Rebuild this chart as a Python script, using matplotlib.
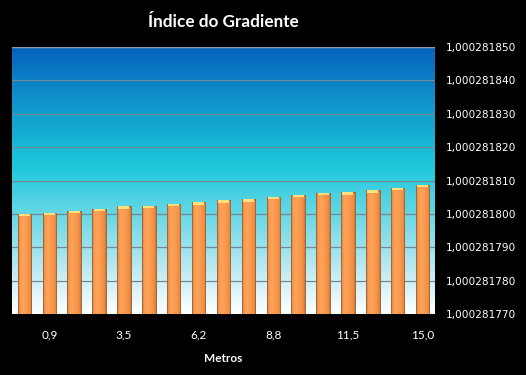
import numpy as np
import matplotlib
matplotlib.use("Agg")
import matplotlib.pyplot as plt
from matplotlib.colors import LinearSegmentedColormap
from matplotlib.ticker import FixedLocator, FuncFormatter

# distâncias (m) e índice do gradiente
metros = [0.0, 0.9, 1.8, 2.6, 3.5, 4.4, 5.3, 6.2, 7.1, 7.9,
          8.8, 9.7, 10.6, 11.5, 12.4, 13.2, 15.0]
indice = [1.0002818001, 1.0002818004, 1.0002818010, 1.0002818016,
          1.0002818023, 1.0002818024, 1.0002818030, 1.0002818035,
          1.0002818041, 1.0002818044, 1.0002818051, 1.0002818058,
          1.0002818063, 1.0002818065, 1.0002818071, 1.0002818078,
          1.0002818087]

Y_MIN = 1.000281770
Y_MAX = 1.000281850
Y_STEP = 0.000000010

BG = "black"


def main():
    fig = plt.figure(figsize=(5.26, 3.75), dpi=100, facecolor=BG)
    ax = fig.add_axes([12 / 526, 1 - 314 / 375, 423 / 526, 267 / 375])
    ax.set_facecolor(BG)

    ax.set_xlim(-0.5, len(metros) - 0.5)
    ax.set_ylim(Y_MIN, Y_MAX)

    # fundo em degradê (azul -> ciano -> branco)
    bg_cmap = LinearSegmentedColormap.from_list(
        "fundo", [(0.0, "#ffffff"), (0.18, "#b8e8f0"), (0.55, "#1ec8dc"),
                  (0.78, "#1098cc"), (1.0, "#0462bd")])
    grad = np.linspace(0, 1, 256).reshape(-1, 1)
    ax.imshow(grad, cmap=bg_cmap, aspect="auto", origin="lower",
              extent=[-0.5, len(metros) - 0.5, Y_MIN, Y_MAX], zorder=0)

    # linhas de grade
    ticks = [Y_MIN + i * Y_STEP for i in range(9)]
    for t in ticks[1:]:
        ax.axhline(t, color="#6f8a96", linewidth=0.9, zorder=1)

    x = np.arange(len(metros))
    heights = [v - Y_MIN for v in indice]
    bars = ax.bar(x, heights, bottom=Y_MIN, width=0.54, color="#f79646",
                  edgecolor="#9c6a40", linewidth=0.7, zorder=2)

    # sombreamento cilíndrico nas barras
    bar_cmap = LinearSegmentedColormap.from_list(
        "barra", [(0.0, "#c77a3c"), (0.15, "#f99a50"), (0.35, "#ffa35a"),
                  (0.7, "#f8964a"), (0.9, "#ee8c42"), (1.0, "#c77a3c")])
    hgrad = np.linspace(0, 1, 64).reshape(1, -1)
    for b in bars:
        bx, by = b.get_x(), b.get_y()
        im = ax.imshow(hgrad, cmap=bar_cmap, aspect="auto",
                       extent=[bx, bx + b.get_width(), by, by + b.get_height()],
                       zorder=3)
        im.set_clip_path(b)
    ax.bar(x, heights, bottom=Y_MIN, width=0.54, color="none",
           edgecolor="#9c6a40", linewidth=0.7, zorder=4)

    # topo amarelado
    cap = 0.0000000007
    ax.bar(x, [cap] * len(x), bottom=[v - cap for v in indice], width=0.44,
           color="#ffe07e", linewidth=0, zorder=5)

    # eixo x
    ax.set_xticks(x[1::3])
    ax.set_xticklabels([f"{m:.1f}".replace(".", ",") for m in metros[1::3]],
                       family="Lato", fontsize=8.5, color="white")
    ax.tick_params(axis="x", length=0, pad=11)
    ax.set_xlabel("Metros", family="Lato", fontweight="bold", fontsize=8.5,
                  color="white", labelpad=9)

    # eixo y à direita
    ax.yaxis.tick_right()
    ax.yaxis.set_major_locator(FixedLocator(ticks))
    ax.yaxis.set_major_formatter(
        FuncFormatter(lambda v, p: f"{v:.9f}".replace(".", ",")))
    ax.tick_params(axis="y", length=0, pad=8, labelsize=7.6,
                   labelcolor="white")

    for s in ax.spines.values():
        s.set_visible(False)
    ax.axhline(Y_MAX, color="#8a9aa8", linewidth=1.0, zorder=1)

    fig.text(223 / 526, 1 - 22 / 375, "Índice do Gradiente", ha="center",
             va="center", family="Lato", fontweight="bold", fontsize=12.3,
             color="white")

    fig.savefig("out.png", dpi=100, facecolor=BG)


if __name__ == "__main__":
    main()
